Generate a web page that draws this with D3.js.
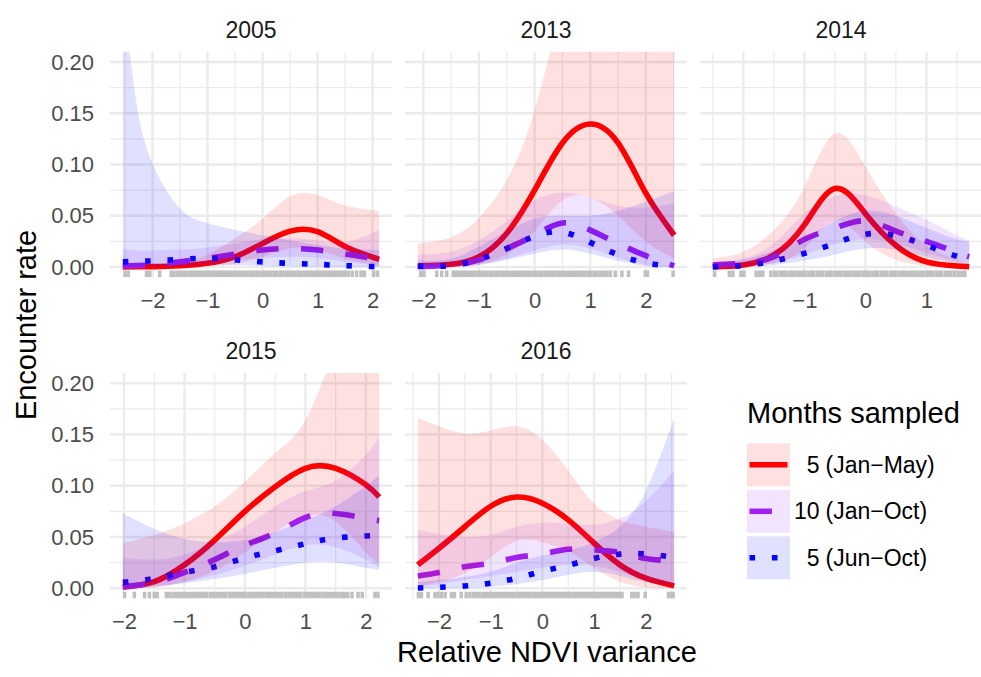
<!DOCTYPE html>
<html>
<head>
<meta charset="utf-8">
<script src="https://cdn.jsdelivr.net/npm/d3@7"></script>
<style>
  body { margin: 0; background: #fff; }
  svg { font-family: "Liberation Sans", Arial, Helvetica, sans-serif; }
  .tick-label { fill: #4d4d4d; font-size: 22px; }
  .strip { fill: #1a1a1a; font-size: 23px; }
  .axis-title { fill: #000; font-size: 29px; }
  .legend-text { fill: #000; font-size: 23px; }
</style>
</head>
<body>
<div id="viz_container"></div>
<script>
// facets and series
const years = ["2005", "2013", "2014", "2015", "2016"];
const seriesCounts = ["5", "10", "5"];
const seriesMonths = ["(Jan\u2212May)", "(Jan\u2212Oct)", "(Jun\u2212Oct)"];
const yTicks = [0, 0.05, 0.10, 0.15, 0.20];

// 2005
const x2005 = [-2.54, -2.3, -2, -1.5, -1, -0.5, 0, 0.5, 1, 1.5, 2.12];
const janMay2005 = [0.0001, 0.0002, 0.0004, 0.0012, 0.0036, 0.010, 0.023, 0.035, 0.0345, 0.020, 0.0075];
const janMay2005Lo = [0, 0, 0, 0, 0.0008, 0.003, 0.010, 0.018, 0.017, 0.008, 0.002];
const janMay2005Hi = [0.0005, 0.0008, 0.0015, 0.004, 0.012, 0.028, 0.047, 0.069, 0.070, 0.060, 0.055];
const janOct2005 = [0.001, 0.0015, 0.002, 0.005, 0.0085, 0.0127, 0.0166, 0.018, 0.0166, 0.0127, 0.0075];
const janOct2005Lo = [0, 0, 0, 0.001, 0.003, 0.006, 0.009, 0.010, 0.009, 0.005, 0.001];
const janOct2005Hi = [0.017, 0.016, 0.016, 0.017, 0.019, 0.023, 0.027, 0.028, 0.026, 0.024, 0.036];
const junOct2005 = [0.005, 0.0055, 0.006, 0.0075, 0.0085, 0.007, 0.005, 0.0036, 0.0026, 0.0013, 0.0003];
const junOct2005Lo = [0, 0, 0.0005, 0.001, 0.002, 0.002, 0.001, 0.0005, 0.0002, 0, 0];
const junOct2005Hi = [0.27, 0.163, 0.101, 0.057, 0.0426, 0.036, 0.031, 0.026, 0.0215, 0.018, 0.0166];
const rug2005 = [-2.50, -2.44, -2.11, -2.05, -1.87,
  -1.66, -1.61, -1.55, -1.50, -1.44, -1.39, -1.33, -1.28, -1.22, -1.17, -1.11, -1.06, -1.00, -0.95,
  -0.89, -0.84, -0.78, -0.73, -0.67, -0.62, -0.56, -0.51, -0.45, -0.40, -0.34, -0.29, -0.23, -0.18,
  -0.12, -0.07, -0.01, 0.04, 0.10, 0.15, 0.21, 0.26, 0.32, 0.37, 0.43, 0.48, 0.54, 0.59, 0.65, 0.70,
  0.76, 0.81, 0.87, 0.92, 0.98, 1.03, 1.09, 1.14, 1.20, 1.25, 1.31, 1.36, 1.42, 1.47, 1.50,
  1.56, 1.63, 1.71, 1.79, 1.85, 2.02, 2.09];

// 2013
const x2013 = [-2.1, -1.5, -1, -0.5, 0, 0.5, 1, 1.5, 2, 2.51];
const janMay2013 = [0.001, 0.0026, 0.010, 0.033, 0.075, 0.121, 0.1395, 0.121, 0.072, 0.031];
const janMay2013Lo = [0.0002, 0.0008, 0.003, 0.012, 0.035, 0.065, 0.068, 0.050, 0.025, 0.008];
const janMay2013Hi = [0.023, 0.029, 0.048, 0.085, 0.153, 0.25, 0.29, 0.29, 0.28, 0.26];
const janOct2013 = [0.0003, 0.002, 0.007, 0.018, 0.031, 0.043, 0.036, 0.023, 0.011, 0.001];
const janOct2013Lo = [0, 0, 0.002, 0.008, 0.016, 0.022, 0.018, 0.009, 0.002, 0];
const janOct2013Hi = [0.012, 0.015, 0.026, 0.045, 0.065, 0.0725, 0.068, 0.060, 0.058, 0.062];
const junOct2013 = [0.001, 0.0015, 0.0075, 0.018, 0.030, 0.034, 0.024, 0.012, 0.004, 0.0005];
const junOct2013Lo = [0, 0, 0.002, 0.007, 0.013, 0.017, 0.013, 0.006, 0.001, 0];
const junOct2013Hi = [0.006, 0.008, 0.020, 0.035, 0.047, 0.050, 0.050, 0.055, 0.064, 0.074];
const rug2013 = [-2.05, -1.99, -1.76, -1.67, -1.58,
  -1.46, -1.41, -1.35, -1.30, -1.24, -1.19, -1.13, -1.08, -1.02, -0.97, -0.91, -0.86, -0.80, -0.75,
  -0.69, -0.64, -0.58, -0.53, -0.47, -0.42, -0.36, -0.31, -0.25, -0.20, -0.14, -0.09, -0.03, 0.02,
  0.08, 0.13, 0.19, 0.24, 0.30, 0.35, 0.41, 0.46, 0.52, 0.57, 0.63, 0.68, 0.74, 0.79, 0.85, 0.90,
  0.96, 1.01, 1.07, 1.12, 1.18, 1.24, 1.30, 1.36,
  1.45, 1.57, 1.69, 1.99, 2.03, 2.49];

// 2014
const x2014 = [-2.5, -2, -1.5, -1, -0.5, 0, 0.5, 1, 1.5, 1.7];
const janMay2014 = [0.0003, 0.002, 0.0117, 0.041, 0.0765, 0.052, 0.021, 0.005, 0.001, 0.0003];
const janMay2014Lo = [0, 0.0005, 0.004, 0.018, 0.045, 0.025, 0.007, 0.001, 0, 0];
const janMay2014Hi = [0.0085, 0.015, 0.036, 0.078, 0.130, 0.098, 0.052, 0.021, 0.007, 0.0036];
const janOct2014 = [0.002, 0.0036, 0.010, 0.027, 0.038, 0.045, 0.035, 0.025, 0.014, 0.010];
const janOct2014Lo = [0, 0.001, 0.004, 0.012, 0.022, 0.027, 0.023, 0.014, 0.006, 0.004];
const janOct2014Hi = [0.005, 0.0085, 0.023, 0.052, 0.069, 0.070, 0.059, 0.046, 0.031, 0.026];
const junOct2014 = [0.0003, 0.0015, 0.006, 0.0133, 0.023, 0.032, 0.0305, 0.021, 0.0105, 0.008];
const junOct2014Lo = [0, 0.0003, 0.002, 0.006, 0.012, 0.018, 0.017, 0.010, 0.004, 0.003];
const junOct2014Hi = [0.004, 0.007, 0.016, 0.028, 0.045, 0.055, 0.050, 0.038, 0.027, 0.025];
const rug2014 = [-2.47, -2.23, -2.17, -2.04, -1.99, -1.79, -1.73, -1.68,
  -1.55, -1.49, -1.45, -1.39, -1.34, -1.30, -1.24, -1.19, -1.15, -1.09, -1.04, -1.00, -0.94, -0.89,
  -0.85, -0.79, -0.74, -0.70, -0.64, -0.59, -0.55, -0.49, -0.44, -0.40, -0.34, -0.29, -0.25, -0.19,
  -0.14, -0.10, -0.04, 0.01, 0.05, 0.11, 0.16, 0.20, 0.26, 0.31, 0.35, 0.41, 0.46, 0.50, 0.56, 0.61,
  0.65, 0.71, 0.76, 0.80, 0.86, 0.91, 0.95, 1.01, 1.06, 1.10, 1.16, 1.21, 1.25, 1.31, 1.36, 1.40,
  1.46, 1.52, 1.58, 1.63];

// 2015
const x2015 = [-2.02, -1.5, -1, -0.5, 0, 0.5, 1, 1.5, 2, 2.22];
const janMay2015 = [0.001, 0.0065, 0.0228, 0.047, 0.075, 0.099, 0.117, 0.117, 0.101, 0.089];
const janMay2015Lo = [0, 0.001, 0.006, 0.017, 0.035, 0.055, 0.070, 0.065, 0.035, 0.025];
const janMay2015Hi = [0.044, 0.052, 0.0634, 0.080, 0.104, 0.132, 0.164, 0.23, 0.27, 0.28];
const janOct2015 = [0.0016, 0.0055, 0.0155, 0.028, 0.042, 0.054, 0.069, 0.073, 0.068, 0.066];
const janOct2015Lo = [0, 0.001, 0.006, 0.013, 0.022, 0.033, 0.042, 0.040, 0.028, 0.020];
const janOct2015Hi = [0.030, 0.028, 0.033, 0.045, 0.060, 0.080, 0.095, 0.105, 0.130, 0.148];
const junOct2015 = [0.0057, 0.0095, 0.0155, 0.021, 0.0295, 0.0365, 0.0435, 0.049, 0.051, 0.052];
const junOct2015Lo = [0, 0.002, 0.005, 0.009, 0.014, 0.020, 0.025, 0.025, 0.020, 0.018];
const junOct2015Hi = [0.073, 0.058, 0.048, 0.045, 0.047, 0.055, 0.066, 0.080, 0.100, 0.110];
const rug2015 = [-1.99, -1.83, -1.66, -1.58, -1.50, -1.45, -1.30, -1.25,
  -1.19, -1.14, -1.09, -1.04, -0.99, -0.94, -0.88, -0.83, -0.78, -0.73, -0.68, -0.63, -0.57, -0.52,
  -0.47, -0.42, -0.37, -0.32, -0.26, -0.21, -0.16, -0.11, -0.06, -0.01, 0.05, 0.10, 0.15, 0.20,
  0.25, 0.30, 0.36, 0.41, 0.46, 0.51, 0.56, 0.61, 0.67, 0.72, 0.77, 0.82, 0.87, 0.92, 0.98, 1.03,
  1.08, 1.13, 1.18, 1.23, 1.29, 1.34, 1.39, 1.44, 1.49, 1.54, 1.60, 1.65, 1.70, 1.77,
  1.87, 1.94, 2.15, 2.20];

// 2016
const x2016 = [-2.41, -2, -1.5, -1, -0.5, 0, 0.5, 1, 1.5, 2, 2.55];
const janMay2016 = [0.0228, 0.039, 0.060, 0.080, 0.089, 0.083, 0.0667, 0.044, 0.0228, 0.0098, 0.0023];
const janMay2016Lo = [0.002, 0.006, 0.015, 0.030, 0.046, 0.045, 0.036, 0.020, 0.006, 0.001, 0];
const janMay2016Hi = [0.166, 0.158, 0.151, 0.154, 0.158, 0.145, 0.115, 0.083, 0.0667, 0.060, 0.055];
const janOct2016 = [0.012, 0.0153, 0.021, 0.0244, 0.030, 0.0335, 0.038, 0.0374, 0.035, 0.029, 0.027];
const janOct2016Lo = [0.002, 0.004, 0.008, 0.012, 0.016, 0.020, 0.023, 0.022, 0.016, 0.009, 0.004];
const janOct2016Hi = [0.057, 0.053, 0.050, 0.052, 0.060, 0.064, 0.063, 0.062, 0.068, 0.085, 0.115];
const junOct2016 = [0.0003, 0.0009, 0.0022, 0.005, 0.0098, 0.0165, 0.0225, 0.029, 0.0333, 0.0335, 0.030];
const junOct2016Lo = [0, 0, 0.0005, 0.0015, 0.004, 0.008, 0.013, 0.016, 0.012, 0.006, 0.002];
const junOct2016Hi = [0.006, 0.008, 0.011, 0.016, 0.025, 0.032, 0.037, 0.045, 0.060, 0.095, 0.166];
const rug2016 = [-2.40, -2.34, -2.21, -2.08, -2.02, -1.95, -1.88, -1.76, -1.70, -1.57, -1.47, -1.40,
  -1.33, -1.27, -1.22,
  -1.15, -1.10, -1.04, -0.99, -0.93, -0.88, -0.82, -0.77, -0.71, -0.66, -0.60, -0.55, -0.49, -0.44,
  -0.38, -0.33, -0.27, -0.22, -0.16, -0.11, -0.05, 0.00, 0.06, 0.11, 0.17, 0.22, 0.28, 0.33, 0.39,
  0.44, 0.50, 0.55, 0.61, 0.66, 0.72, 0.77, 0.83, 0.88, 0.94, 0.99, 1.05, 1.10, 1.16, 1.21, 1.27,
  1.32, 1.38, 1.43, 1.49, 1.54,
  1.73, 1.79, 1.85, 1.99, 2.44, 2.49, 2.53];

// table built from the arrays above
const panels = [
  { x: x2005, rug: rug2005, fits: [[janMay2005, janMay2005Lo, janMay2005Hi], [janOct2005, janOct2005Lo, janOct2005Hi], [junOct2005, junOct2005Lo, junOct2005Hi]] },
  { x: x2013, rug: rug2013, fits: [[janMay2013, janMay2013Lo, janMay2013Hi], [janOct2013, janOct2013Lo, janOct2013Hi], [junOct2013, junOct2013Lo, junOct2013Hi]] },
  { x: x2014, rug: rug2014, fits: [[janMay2014, janMay2014Lo, janMay2014Hi], [janOct2014, janOct2014Lo, janOct2014Hi], [junOct2014, junOct2014Lo, junOct2014Hi]] },
  { x: x2015, rug: rug2015, fits: [[janMay2015, janMay2015Lo, janMay2015Hi], [janOct2015, janOct2015Lo, janOct2015Hi], [junOct2015, junOct2015Lo, junOct2015Hi]] },
  { x: x2016, rug: rug2016, fits: [[janMay2016, janMay2016Lo, janMay2016Hi], [janOct2016, janOct2016Lo, janOct2016Hi], [junOct2016, junOct2016Lo, junOct2016Hi]] }
];

// styles
const colors = ["#ff0000", "#a020f0", "#0000ff"];
const lineW = 5.6;
const dashes = [null, `${4 * lineW},${4 * lineW}`, `${lineW},${3 * lineW}`];
const ribbonAlpha = 0.12;

// layout
const width = 981, height = 677;
const panelW = 282, panelH = 225.5;
const panelLeft = [110, 405, 700, 110, 405];
const panelTop = [51.75, 51.75, 51.75, 373, 373];

const svg = d3.select("#viz_container")
  .append("svg")
  .attr("width", width)
  .attr("height", height);

const y = d3.scaleLinear().domain([-0.01, 0.21]).range([panelH, 0]);

panels.forEach((p, i) => {
  const g = svg.append("g")
    .attr("transform", `translate(${panelLeft[i]},${panelTop[i]})`);

  // free x scale, expanded by 5% like ggplot
  const ext = d3.extent(p.x);
  const pad = (ext[1] - ext[0]) * 0.05;
  const x = d3.scaleLinear().domain([ext[0] - pad, ext[1] + pad]).range([0, panelW]);

  // grid lines (minor then major)
  const grid = g.append("g");
  const xMajor = x.ticks(5);
  const xMinor = x.ticks(10).filter(v => !xMajor.includes(v));
  const yMinor = [0.025, 0.075, 0.125, 0.175];
  grid.selectAll(".vmin").data(xMinor).join("line")
    .attr("x1", d => x(d)).attr("x2", d => x(d)).attr("y1", 0).attr("y2", panelH)
    .attr("stroke", "#ebebeb").attr("stroke-width", 1.2);
  grid.selectAll(".hmin").data(yMinor).join("line")
    .attr("x1", 0).attr("x2", panelW).attr("y1", d => y(d)).attr("y2", d => y(d))
    .attr("stroke", "#ebebeb").attr("stroke-width", 1.2);
  grid.selectAll(".vmaj").data(xMajor).join("line")
    .attr("x1", d => x(d)).attr("x2", d => x(d)).attr("y1", 0).attr("y2", panelH)
    .attr("stroke", "#ebebeb").attr("stroke-width", 2.3);
  grid.selectAll(".hmaj").data(yTicks).join("line")
    .attr("x1", 0).attr("x2", panelW).attr("y1", d => y(d)).attr("y2", d => y(d))
    .attr("stroke", "#ebebeb").attr("stroke-width", 2.3);

  // clip to panel
  const clipId = `clip${i}`;
  g.append("clipPath").attr("id", clipId)
    .append("rect").attr("width", panelW).attr("height", panelH);
  const plot = g.append("g").attr("clip-path", `url(#${clipId})`);

  // rug
  plot.append("g").selectAll("line").data(p.rug).join("line")
    .attr("x1", d => x(d)).attr("x2", d => x(d))
    .attr("y1", panelH).attr("y2", panelH - 0.03 * panelH)
    .attr("stroke", "#c0c0c0").attr("stroke-width", 3.5);

  const rows = p.fits.map(f => p.x.map((v, k) => ({ x: v, fit: f[0][k], lo: f[1][k], hi: f[2][k] })));

  const line = d3.line().x(d => x(d.x)).y(d => y(d.fit)).curve(d3.curveNatural);
  const area = d3.area().x(d => x(d.x)).y0(d => y(d.lo)).y1(d => y(d.hi)).curve(d3.curveNatural);

  // fitted lines
  rows.forEach((r, s) => {
    plot.append("path")
      .attr("d", line(r))
      .attr("fill", "none")
      .attr("stroke", colors[s])
      .attr("stroke-width", lineW)
      .attr("stroke-linecap", "butt")
      .attr("stroke-dasharray", dashes[s]);
  });

  // confidence ribbons drawn over the lines
  rows.forEach((r, s) => {
    plot.append("path")
      .attr("d", area(r))
      .attr("fill", colors[s])
      .attr("fill-opacity", ribbonAlpha);
  });

  // x axis
  g.append("g")
    .attr("transform", `translate(0,${panelH})`)
    .call(d3.axisBottom(x).tickValues(xMajor).tickSize(0).tickPadding(15).tickFormat(d3.format("d")))
    .call(a => a.select(".domain").remove())
    .call(a => a.selectAll("text").attr("class", "tick-label"));

  // y axis on left column only
  if (i === 0 || i === 3) {
    g.append("g")
      .call(d3.axisLeft(y).tickValues(yTicks).tickSize(0).tickPadding(16).tickFormat(d3.format(".2f")))
      .call(a => a.select(".domain").remove())
      .call(a => a.selectAll("text").attr("class", "tick-label"));
  }

  // strip label
  g.append("text")
    .attr("class", "strip")
    .attr("x", panelW / 2)
    .attr("y", -14)
    .attr("text-anchor", "middle")
    .text(years[i]);
});

// axis titles
svg.append("text")
  .attr("class", "axis-title")
  .attr("x", 547)
  .attr("y", 662)
  .attr("text-anchor", "middle")
  .text("Relative NDVI variance");

svg.append("text")
  .attr("class", "axis-title")
  .attr("transform", "translate(36,325) rotate(-90)")
  .attr("text-anchor", "middle")
  .text("Encounter rate");

// legend
const legend = svg.append("g").attr("transform", "translate(747,0)");
legend.append("text")
  .attr("class", "axis-title")
  .attr("x", 0)
  .attr("y", 423)
  .text("Months sampled");

const keyY = [443.3, 489.8, 536.3];
seriesCounts.forEach((c, s) => {
  legend.append("rect")
    .attr("x", 0).attr("y", keyY[s])
    .attr("width", 43).attr("height", 43)
    .attr("fill", colors[s]).attr("fill-opacity", ribbonAlpha);
  legend.append("line")
    .attr("x1", 2.5).attr("x2", 40.5)
    .attr("y1", keyY[s] + 21.5).attr("y2", keyY[s] + 21.5)
    .attr("stroke", colors[s])
    .attr("stroke-width", lineW)
    .attr("stroke-dasharray", dashes[s]);
  legend.append("text")
    .attr("class", "legend-text")
    .attr("x", 72.5).attr("y", keyY[s] + 29.5)
    .attr("text-anchor", "end")
    .text(c);
  legend.append("text")
    .attr("class", "legend-text")
    .attr("x", 78.5).attr("y", keyY[s] + 29.5)
    .text(seriesMonths[s]);
});
</script>
</body>
</html>
